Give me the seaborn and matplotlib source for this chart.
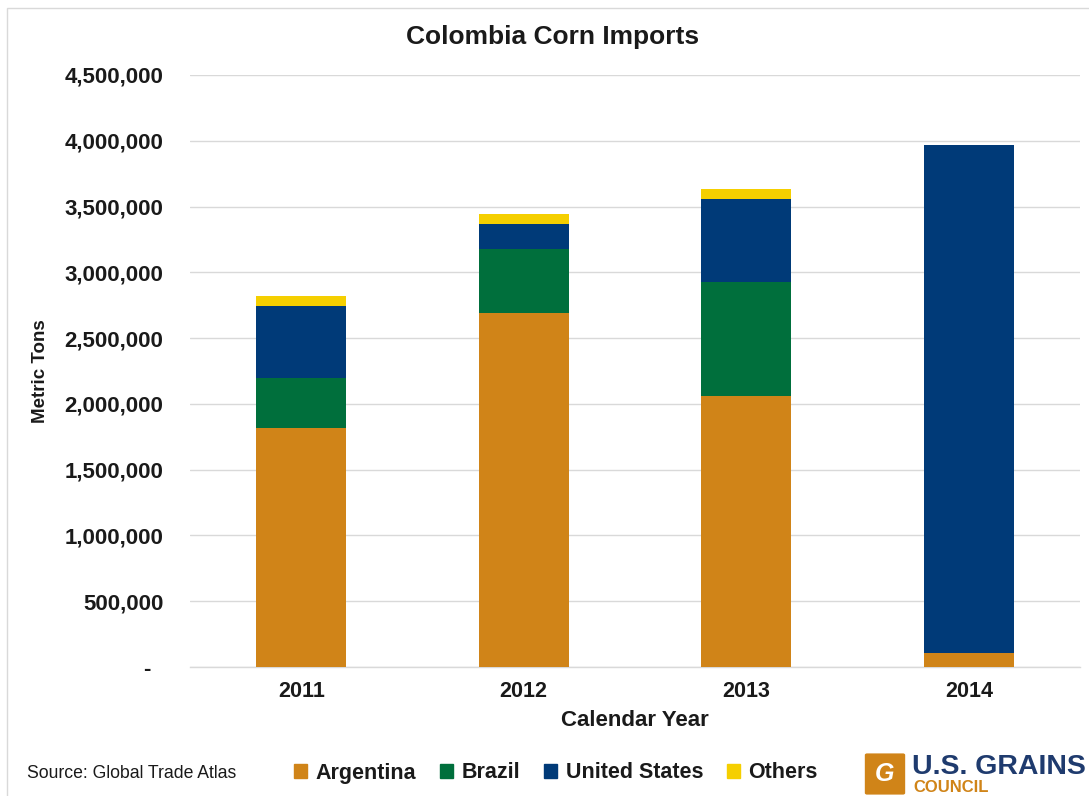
import matplotlib
matplotlib.use("Agg")
import matplotlib.pyplot as plt
import seaborn as sns
import pandas as pd
import numpy as np
from matplotlib.patches import Rectangle, FancyBboxPatch
from matplotlib.ticker import FuncFormatter

years = ["2011", "2012", "2013", "2014"]
argentina = [1816000, 2692000, 2059000, 104000]
brazil = [378000, 489000, 864000, 0]
united_states = [551000, 185000, 638000, 3863000]
others = [75000, 81000, 76000, 0]

series_names = ["Argentina", "Brazil", "United States", "Others"]
series_vals = [argentina, brazil, united_states, others]
colors = ["#D08418", "#006F3C", "#003A78", "#F5CF00"]

sns.set_theme(style="white")
plt.rcParams["font.family"] = ["Liberation Sans", "DejaVu Sans"]

fig = plt.figure(figsize=(10.89, 7.96), dpi=100)
ax = fig.add_axes([190/1089, 1-667/796, (1080-190)/1089, (667-75)/796])

cum = np.cumsum(np.array(series_vals), axis=0)
for i in range(len(series_names) - 1, -1, -1):
    df = pd.DataFrame({"year": years, "value": cum[i]})
    sns.barplot(data=df, x="year", y="value", color=colors[i], width=0.405,
                ax=ax, saturation=1, zorder=3, edgecolor="none", linewidth=0)

ax.set_ylim(0, 4500000)
ax.set_yticks(np.arange(0, 4500001, 500000))
ax.yaxis.set_major_formatter(FuncFormatter(lambda v, p: "-  " if v == 0 else f"{int(v):,}"))
ax.grid(axis="y", color="#D9D9D9", linewidth=1, zorder=0)
ax.set_axisbelow(True)
for s in ["top", "right", "left"]:
    ax.spines[s].set_visible(False)
ax.spines["bottom"].set_color("#D9D9D9")
ax.spines["bottom"].set_linewidth(1)
ax.tick_params(axis="x", length=0, labelsize=15.5, pad=10)
ax.tick_params(axis="y", length=0, labelsize=16, pad=19)
for lbl in ax.get_xticklabels() + ax.get_yticklabels():
    lbl.set_fontweight("bold")
    lbl.set_color("#1a1a1a")
ax.set_xlabel("Calendar Year", fontsize=16, fontweight="bold", labelpad=6, color="#1a1a1a")
ax.set_ylabel("Metric Tons", fontsize=13.5, fontweight="bold", labelpad=11, color="#1a1a1a")
ax.set_xlim(-0.5, 3.5)

fig.text(553/1089, 1-37/796, "Colombia Corn Imports", ha="center", va="center",
         fontsize=19, fontweight="bold", color="#1a1a1a")

# figure border
fig.patches.append(Rectangle((7/1089, -0.01), 1.1, 1 - 8/796 + 0.01, transform=fig.transFigure,
                             fill=False, edgecolor="#D9D9D9", linewidth=1))

# legend
handles = [Rectangle((0, 0), 1, 1, color=c) for c in colors]
leg = fig.legend(handles, series_names, loc="center", bbox_to_anchor=(556/1089, 1-773/796),
                 ncol=4, frameon=False, handlelength=0.6, handleheight=0.6,
                 handletextpad=0.4, columnspacing=1.1, prop={"size": 15.5, "weight": "bold"})
for t in leg.get_texts():
    t.set_color("#1a1a1a")

fig.text(27/1089, 1-773/796, "Source: Global Trade Atlas", ha="left", va="center",
         fontsize=12.7, color="#1a1a1a")

# logo
fig.patches.append(FancyBboxPatch((867/1089, 1-793/796), 36/1089, 38/796,
                                  boxstyle="round,pad=0.002", transform=fig.transFigure,
                                  facecolor="#D08418", edgecolor="none"))
fig.text(885/1089, 1-774/796, "G", ha="center", va="center", fontsize=18,
         fontweight="bold", color="white", style="italic")
fig.text(912/1089, 1-767/796, "U.S. GRAINS", ha="left", va="center", fontsize=20.5,
         fontweight="bold", color="#1F3B6E")
fig.text(913/1089, 1-787/796, "COUNCIL", ha="left", va="center", fontsize=12,
         fontweight="bold", color="#D08418")

fig.savefig("out.png", dpi=100)
